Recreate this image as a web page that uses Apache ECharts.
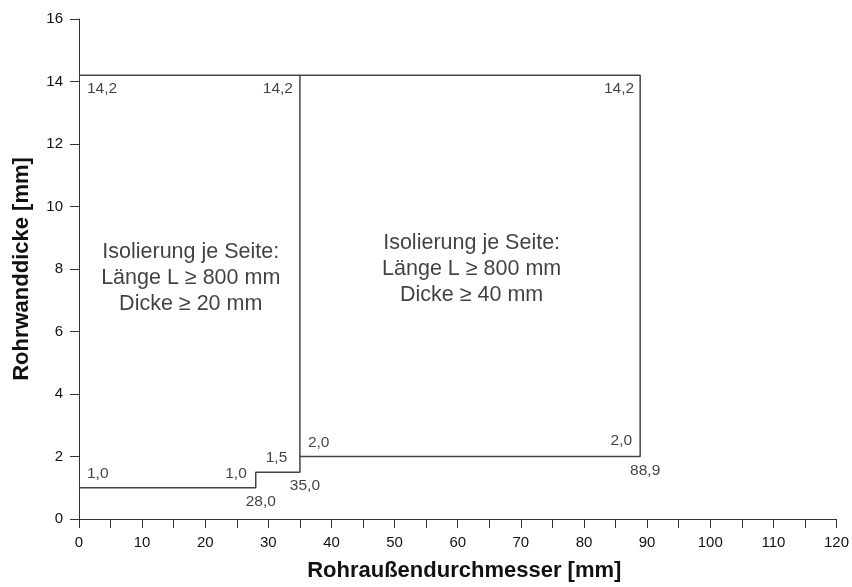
<!DOCTYPE html>
<html>
<head>
<meta charset="utf-8">
<script src="https://cdn.jsdelivr.net/npm/echarts@6/dist/echarts.min.js"></script>
<style>
html,body{margin:0;padding:0;background:#fff;}
#chart{width:852px;height:587px;}
</style>
</head>
<body>
<div id="chart"></div>
<script>
// ---- data ----
const xAxisTitle = 'Rohraußendurchmesser [mm]';
const yAxisTitle = 'Rohrwanddicke [mm]';
const xMin = 0, xMax = 120, xStep = 5, xLabelStep = 10;
const yMin = 0, yMax = 16, yStep = 2;

// zone 1 outline (Dicke ≥ 20 mm)
const zone1X = [0, 35, 35, 28, 28, 0];
const zone1Y = [14.2, 14.2, 1.5, 1.5, 1.0, 1.0];
// zone 2 outline (Dicke ≥ 40 mm)
const zone2X = [35, 88.9, 88.9, 35];
const zone2Y = [14.2, 14.2, 2.0, 2.0];

// value annotations: text, x, y
const annotText = ['14,2', '14,2', '14,2', '1,0', '1,0', '1,5', '35,0', '28,0', '2,0', '2,0', '88,9'];
const annotX    = [0,      35,     88.9,   0,     28,    28,    35,     28,     35,    88.9,  88.9];
const annotY    = [14.2,   14.2,   14.2,   1.0,   1.0,   1.5,   1.5,    1.0,    2.0,   2.0,   2.0];

const note1 = ['Isolierung je Seite:', 'Länge L ≥ 800 mm', 'Dicke ≥ 20 mm'];
const note2 = ['Isolierung je Seite:', 'Länge L ≥ 800 mm', 'Dicke ≥ 40 mm'];

// ---- styling / layout ----
const FONT = "'Liberation Sans', Arial, sans-serif";
const TXT = '#111';
const annotStyle = [
  {align:'left',   offset:[8, 13]},
  {align:'right',  offset:[-7, 13]},
  {align:'right',  offset:[-6, 13]},
  {align:'left',   offset:[8, -14]},
  {align:'right',  offset:[-9, -14]},
  {align:'left',   offset:[10, -14]},
  {align:'center', offset:[5, 14]},
  {align:'center', offset:[5, 14]},
  {align:'left',   offset:[8, -14]},
  {align:'right',  offset:[-8, -16]},
  {align:'center', offset:[5, 14]}
];

const zip = (xs, ys) => xs.map((x, i) => [x, ys[i]]);

const chart = echarts.init(document.getElementById('chart'), null, {renderer:'canvas'});
const option = {
  backgroundColor: '#ffffff',
  animation: false,
  grid: {left: 79, right: 14, top: 19, bottom: 67},
  xAxis: {
    type: 'value', min: xMin, max: xMax, interval: xStep,
    name: xAxisTitle, nameLocation: 'middle', nameGap: 41,
    nameTextStyle: {fontFamily: FONT, fontWeight: 'bold', fontSize: 22, color: TXT, padding: [0, 0, 0, 13]},
    axisLine: {show: true, lineStyle: {color: '#333', width: 1}},
    axisTick: {show: true, inside: false, length: 9, lineStyle: {color: '#333'}},
    axisLabel: {
      margin: 16, fontFamily: FONT, fontSize: 15, color: TXT,
      formatter: v => (v % xLabelStep === 0 ? String(v) : '')
    },
    splitLine: {show: false}
  },
  yAxis: {
    type: 'value', min: yMin, max: yMax, interval: yStep,
    name: yAxisTitle, nameLocation: 'middle', nameGap: 46, nameRotate: 90,
    nameTextStyle: {fontFamily: FONT, fontWeight: 'bold', fontSize: 22, color: TXT},
    axisLine: {show: true, lineStyle: {color: '#333', width: 1}},
    axisTick: {show: true, inside: false, length: 9, lineStyle: {color: '#333'}},
    axisLabel: {margin: 16, fontFamily: FONT, fontSize: 15, color: TXT},
    splitLine: {show: false}
  },
  series: [
    {
      type: 'line', data: zip(zone1X, zone1Y), symbol: 'none',
      lineStyle: {color: '#444', width: 1.5}, z: 3
    },
    {
      type: 'line', data: zip(zone2X, zone2Y), symbol: 'none',
      lineStyle: {color: '#444', width: 1.5}, z: 3
    },
    {
      type: 'scatter', symbolSize: 1, itemStyle: {color: 'rgba(0,0,0,0)'},
      data: annotText.map((t, i) => ({
        name: t, value: [annotX[i], annotY[i]],
        label: {
          show: true, position: 'inside', formatter: t,
          align: annotStyle[i].align, verticalAlign: 'middle', offset: annotStyle[i].offset,
          fontFamily: FONT, fontSize: 15.5, color: TXT
        }
      })),
      silent: true, z: 4
    },
    {
      type: 'scatter', symbolSize: 1, itemStyle: {color: 'rgba(0,0,0,0)'},
      data: [
        {value: [17.7, 7.7], text: note1.join('\n')},
        {value: [62.2, 8.0], text: note2.join('\n')}
      ].map(d => ({
        value: d.value,
        label: {
          show: true, position: 'inside', formatter: d.text,
          align: 'center', verticalAlign: 'middle', lineHeight: 26,
          fontFamily: FONT, fontSize: 21.5, color: TXT
        }
      })),
      silent: true, z: 4
    }
  ]
};
chart.setOption(option);
</script>
</body>
</html>
